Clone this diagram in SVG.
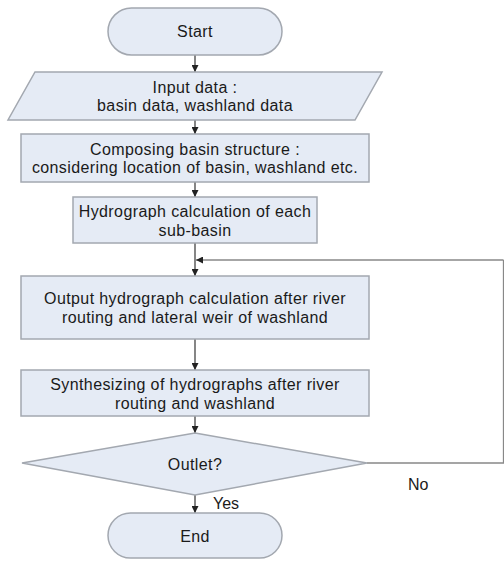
<svg xmlns="http://www.w3.org/2000/svg" width="504" height="561" viewBox="0 0 504 561">
<style>
.n{fill:#e5ebf5;stroke:#a3a8b0;stroke-width:1.5}
.t{font-family:"Liberation Sans",Arial,sans-serif;font-size:16px;letter-spacing:0.4px;fill:#1a1a1a;text-anchor:middle}
.l{font-family:"Liberation Sans",Arial,sans-serif;font-size:16px;fill:#1a1a1a}
.c{fill:none;stroke:#444;stroke-width:1.3}
.f{fill:none;stroke:#888;stroke-width:1.3}
</style>
<defs>
<marker id="a" viewBox="0 0 10 10" refX="10" refY="5" markerWidth="7" markerHeight="7" orient="auto" markerUnits="userSpaceOnUse"><path d="M0,0L10,5L0,10z" fill="#222"/></marker>
</defs>
<rect width="504" height="561" fill="#fff"/>
<g id="connectors">
<line class="c" x1="195" y1="55" x2="195" y2="72" marker-end="url(#a)"/>
<line class="c" x1="195" y1="120" x2="195" y2="134" marker-end="url(#a)"/>
<line class="c" x1="195" y1="182" x2="195" y2="197" marker-end="url(#a)"/>
<line class="c" x1="195" y1="243" x2="195" y2="276" marker-end="url(#a)"/>
<line class="c" x1="195" y1="339" x2="195" y2="370" marker-end="url(#a)"/>
<line class="c" x1="195" y1="416" x2="195" y2="433" marker-end="url(#a)"/>
<line class="c" x1="195" y1="495" x2="195" y2="513" marker-end="url(#a)"/>
<polyline class="f" points="367,463 503.5,463 503.5,260"/>
<line class="f" x1="503.5" y1="260" x2="196" y2="260" marker-end="url(#a)"/>
<text class="l" x="408" y="490">No</text>
<text class="l" x="213" y="509">Yes</text>
</g>
<g id="start">
<rect class="n" x="108" y="8" width="174" height="47" rx="23.5"/>
<text class="t" x="195" y="37">Start</text>
</g>
<g id="input">
<polygon class="n" points="35,72 382,72 355,120 8,120"/>
<text class="t" x="195" y="93">Input data :</text>
<text class="t" x="195" y="111">basin data, washland data</text>
</g>
<g id="compose">
<rect class="n" x="21" y="134" width="348" height="48"/>
<text class="t" x="195" y="155">Composing basin structure :</text>
<text class="t" x="195" y="173">considering location of basin, washland etc.</text>
</g>
<g id="hydro">
<rect class="n" x="73" y="197" width="244" height="46"/>
<text class="t" x="195" y="217">Hydrograph calculation of each</text>
<text class="t" x="195" y="236">sub-basin</text>
</g>
<g id="output">
<rect class="n" x="21" y="276" width="348" height="63"/>
<text class="t" x="195" y="304">Output hydrograph calculation after river</text>
<text class="t" x="195" y="323">routing and lateral weir of washland</text>
</g>
<g id="synth">
<rect class="n" x="21" y="370" width="348" height="46"/>
<text class="t" x="195" y="390">Synthesizing of hydrographs after river</text>
<text class="t" x="195" y="409">routing and washland</text>
</g>
<g id="outlet">
<polygon class="n" points="195,433 367,463 195,495 22,463"/>
<text class="t" x="195" y="470">Outlet?</text>
</g>
<g id="end">
<rect class="n" x="108" y="513" width="174" height="45" rx="22.5"/>
<text class="t" x="195" y="542">End</text>
</g>
</svg>
